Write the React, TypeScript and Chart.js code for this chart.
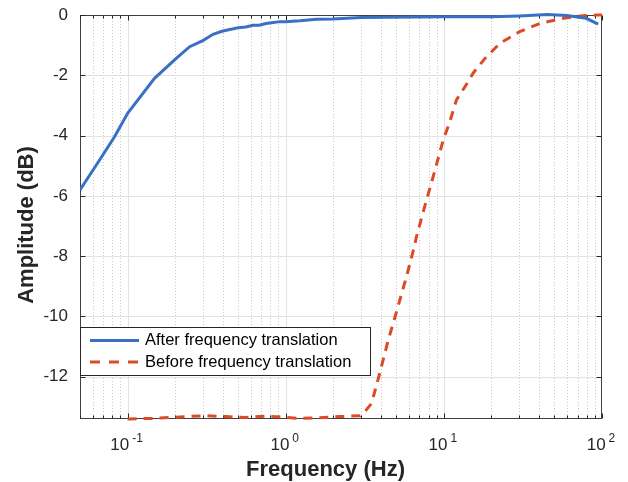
import React, { useEffect, useRef } from "react";
import { Chart, registerables } from "chart.js";

Chart.register(...registerables);

// ---- data ----
const afterFreq = [0.05, 0.0665, 0.0827, 0.1, 0.148, 0.203, 0.247, 0.299, 0.347, 0.4, 0.5, 0.56, 0.62, 0.68, 0.75, 0.92, 1.0, 1.23, 1.57, 1.98, 3.0, 10, 20, 30, 45, 60, 79.4, 94.6];
const afterAmp = [-5.8, -4.81, -4.04, -3.26, -2.1, -1.44, -1.05, -0.85, -0.64, -0.53, -0.42, -0.4, -0.34, -0.34, -0.28, -0.22, -0.22, -0.19, -0.14, -0.13, -0.08, -0.06, -0.06, -0.03, 0.02, -0.02, -0.11, -0.3];

const beforeFreq = [0.1, 0.145, 0.172, 0.235, 0.315, 0.42, 0.56, 0.755, 1.0, 1.23, 1.64, 2.2, 2.94, 3.16, 3.49, 3.93, 4.45, 5.02, 5.8, 6.49, 6.7, 7.76, 8.56, 9.9, 10.9, 12.0, 13.6, 15.3, 18.2, 22.6, 30.2, 40.5, 54, 72.5, 92.5, 100];
const beforeAmp = [-13.4, -13.38, -13.36, -13.32, -13.29, -13.32, -13.35, -13.3, -13.35, -13.38, -13.36, -13.32, -13.29, -13.16, -12.88, -11.88, -10.78, -9.84, -8.68, -7.7, -7.37, -6.14, -5.36, -4.15, -3.54, -2.82, -2.38, -1.93, -1.44, -0.94, -0.55, -0.28, -0.13, -0.03, 0, 0];

const seriesNames = ["After frequency translation", "Before frequency translation"];
const xTitle = "Frequency (Hz)";
const yTitle = "Amplitude (dB)";
const yTicks = [-12, -10, -8, -6, -4, -2, 0];
const xDecades = [0.1, 1, 10, 100];
const xDecadeExp = ["-1", "0", "1", "2"];
const xMinor = [0.05, 0.06, 0.07, 0.08, 0.09, 0.2, 0.3, 0.4, 0.5, 0.6, 0.7, 0.8, 0.9, 2, 3, 4, 5, 6, 7, 8, 9, 20, 30, 40, 50, 60, 70, 80, 90];

const BLUE = "#3a70c4";
const RED = "#dc4a26";
const AXIS = "#262626";
const FONT = "'Liberation Sans', Arial, Helvetica, sans-serif";

const decorPlugin = {
  id: "decor",
  beforeDatasetsDraw(chart: any) {
    const { ctx, chartArea: a, scales } = chart;
    const x = scales.x, y = scales.y;
    ctx.save();
    // minor x grid (dotted)
    ctx.strokeStyle = "#c8c8c8";
    ctx.lineWidth = 1;
    ctx.setLineDash([1, 2]);
    xMinor.forEach((v) => {
      const px = Math.round(x.getPixelForValue(v)) + 0.5;
      if (px <= a.left + 1 || px >= a.right - 1) return;
      ctx.beginPath();
      ctx.moveTo(px, a.top);
      ctx.lineTo(px, a.bottom);
      ctx.stroke();
    });
    ctx.setLineDash([]);
    // major grid
    ctx.strokeStyle = "#e3e3e3";
    xDecades.forEach((v) => {
      const px = Math.round(x.getPixelForValue(v)) + 0.5;
      if (px >= a.right - 1) return;
      ctx.beginPath();
      ctx.moveTo(px, a.top);
      ctx.lineTo(px, a.bottom);
      ctx.stroke();
    });
    yTicks.forEach((v) => {
      const py = Math.round(y.getPixelForValue(v)) + 0.5;
      if (py <= a.top + 1) return;
      ctx.beginPath();
      ctx.moveTo(a.left, py);
      ctx.lineTo(a.right, py);
      ctx.stroke();
    });
    // box
    ctx.strokeStyle = "#404040";
    ctx.lineWidth = 1;
    const L = Math.round(a.left) + 0.5, R = Math.round(a.right) - 0.5;
    const T = Math.round(a.top) + 0.5, B = Math.round(a.bottom) - 0.5;
    ctx.strokeRect(L, T, R - L, B - T);
    // ticks
    ctx.strokeStyle = AXIS;
    const tick = (px: number, len: number) => {
      ctx.beginPath();
      ctx.moveTo(px, B);
      ctx.lineTo(px, B - len);
      ctx.moveTo(px, T);
      ctx.lineTo(px, T + len);
      ctx.stroke();
    };
    xDecades.forEach((v) => tick(Math.round(x.getPixelForValue(v)) + 0.5, 5));
    xMinor.forEach((v) => tick(Math.round(x.getPixelForValue(v)) + 0.5, 3));
    yTicks.forEach((v) => {
      const py = Math.round(y.getPixelForValue(v)) + 0.5;
      ctx.beginPath();
      ctx.moveTo(L, py);
      ctx.lineTo(L + 5, py);
      ctx.moveTo(R, py);
      ctx.lineTo(R - 5, py);
      ctx.stroke();
    });
    // x tick labels 10^n
    ctx.fillStyle = AXIS;
    ctx.textBaseline = "alphabetic";
    ctx.textAlign = "left";
    xDecades.forEach((v, i) => {
      const px = x.getPixelForValue(v);
      ctx.font = `17px ${FONT}`;
      const wb = ctx.measureText("10").width;
      ctx.font = `12px ${FONT}`;
      const we = ctx.measureText(xDecadeExp[i]).width;
      const gap = 3;
      const start = px - (wb + gap + we) / 2 - 1;
      ctx.font = `17px ${FONT}`;
      ctx.fillText("10", start, 450);
      ctx.font = `12px ${FONT}`;
      ctx.fillText(xDecadeExp[i], start + wb + gap, 442);
    });
    // axis titles
    ctx.font = `bold 22px ${FONT}`;
    ctx.textAlign = "center";
    ctx.textBaseline = "alphabetic";
    ctx.fillText(xTitle, 325.5, 476);
    ctx.save();
    ctx.translate(33, 225);
    ctx.rotate(-Math.PI / 2);
    ctx.fillText(yTitle, 0, 0);
    ctx.restore();
    ctx.restore();
  },
  afterDatasetsDraw(chart: any) {
    const { ctx, chartArea: a } = chart;
    ctx.save();
    const bx = Math.round(a.left) + 0.5, by = 327.5, bw = 290, bh = 48;
    ctx.fillStyle = "#ffffff";
    ctx.fillRect(bx, by, bw, bh);
    ctx.strokeStyle = AXIS;
    ctx.lineWidth = 1;
    ctx.strokeRect(bx, by, bw, bh);
    const rows = [
      { y: 340.5, color: BLUE, dash: [] as number[], label: seriesNames[0] },
      { y: 362, color: RED, dash: [10, 9], label: seriesNames[1] },
    ];
    rows.forEach((r) => {
      ctx.strokeStyle = r.color;
      ctx.lineWidth = 3;
      ctx.setLineDash(r.dash);
      ctx.beginPath();
      ctx.moveTo(90, r.y);
      ctx.lineTo(139, r.y);
      ctx.stroke();
      ctx.setLineDash([]);
      ctx.fillStyle = "#000000";
      ctx.font = `16.5px ${FONT}`;
      ctx.textAlign = "left";
      ctx.textBaseline = "middle";
      ctx.fillText(r.label, 145, r.y);
    });
    ctx.restore();
  },
};

export default function App() {
  const ref = useRef<HTMLCanvasElement | null>(null);
  useEffect(() => {
    if (!ref.current) return;
    const chart = new Chart(ref.current, {
      type: "line",
      data: {
        datasets: [
          {
            label: seriesNames[0],
            data: afterFreq.map((f, i) => ({ x: f, y: afterAmp[i] })),
            borderColor: BLUE,
            borderWidth: 3,
            pointRadius: 0,
            tension: 0,
            fill: false,
            clip: { left: 0, right: 2, top: 3, bottom: 3 } as any,
          },
          {
            label: seriesNames[1],
            data: beforeFreq.map((f, i) => ({ x: f, y: beforeAmp[i] })),
            borderColor: RED,
            borderWidth: 3,
            borderDash: [9, 7],
            pointRadius: 0,
            tension: 0,
            fill: false,
            clip: { left: 0, right: 2, top: 3, bottom: 3 } as any,
          },
        ],
      },
      options: {
        responsive: false,
        animation: false,
        events: [],
        layout: { padding: { top: 15, right: 26, left: 0, bottom: 0 } },
        plugins: { legend: { display: false }, tooltip: { enabled: false } },
        scales: {
          x: {
            type: "logarithmic",
            min: 0.05,
            max: 100,
            grid: { display: false },
            border: { display: false },
            ticks: { display: false },
            afterFit: (s: any) => {
              s.height = 63;
              s.paddingLeft = 0;
              s.paddingRight = 0;
            },
          },
          y: {
            type: "linear",
            min: -13.4,
            max: 0,
            grid: { display: false },
            border: { display: false },
            afterBuildTicks: (s: any) => {
              s.ticks = yTicks.map((v) => ({ value: v }));
            },
            ticks: {
              color: AXIS,
              padding: 4,
              font: { family: FONT, size: 17 },
              callback: (v: any) => String(v),
            },
            afterFit: (s: any) => {
              s.width = 80;
              s.paddingTop = 0;
              s.paddingBottom = 0;
            },
          },
        },
      },
      plugins: [decorPlugin],
    });
    return () => chart.destroy();
  }, []);
  return (
    <div style={{ position: "fixed", left: 0, top: 0, width: 628, height: 482, background: "#fff" }}>
      <canvas ref={ref} width={628} height={482} />
    </div>
  );
}
